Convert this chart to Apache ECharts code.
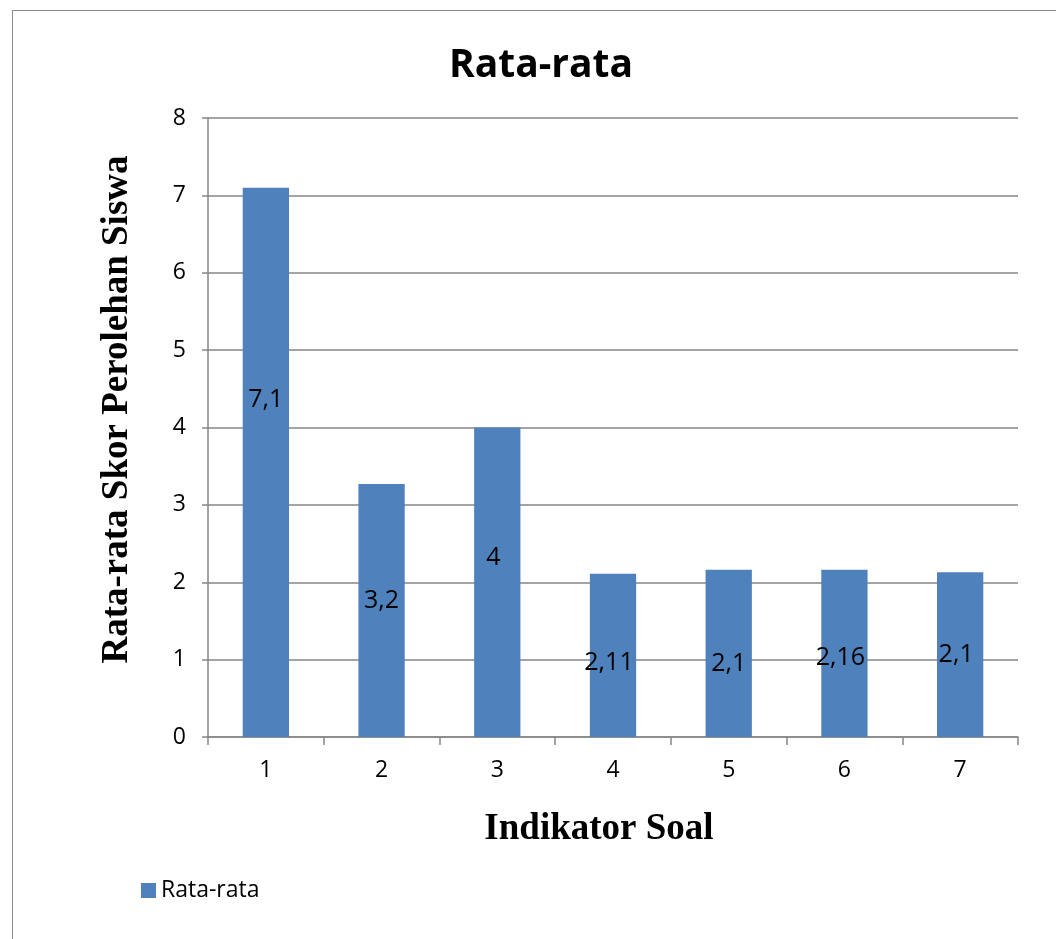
<!DOCTYPE html>
<html><head><meta charset="utf-8">
<script src="https://cdn.jsdelivr.net/npm/echarts@6/dist/echarts.min.js"></script>
<style>html,body{margin:0;padding:0;background:#fff}#frame{position:absolute;left:12px;top:10px;width:1100px;height:1000px;border:1.5px solid #8a8a8a;box-sizing:border-box}#c{position:absolute;left:0;top:0;width:1056px;height:939px}</style>
</head><body><div id="frame"></div><div id="c"></div>
<script>
const categories = ['1','2','3','4','5','6','7'];
const values = [7.1, 3.27, 4.0, 2.11, 2.16, 2.16, 2.13];
const valueLabels = ['7,1','3,2','4','2,11','2,1','2,16','2,1'];
const seriesName = 'Rata-rata';
const titleText = 'Rata-rata';
const yTitle = 'Rata-rata Skor Perolehan Siswa';
const xTitle = 'Indikator Soal';

const labelOffsets = [[0,-62],[0,-10],[-4,-24],[-4,8],[0,10],[-4,4],[-4,0]];
const chart = echarts.init(document.getElementById('c'));
const sans = '"Open Sans", Lato, sans-serif';
const serif = '"Liberation Serif", "DejaVu Serif", serif';
chart.setOption({
  animation:false,
  backgroundColor:'transparent',
  title:{text:titleText,left:444,top:41,textStyle:{fontFamily:sans,fontWeight:'bold',fontSize:39,color:'#000'}},
  legend:{left:136,top:874,itemWidth:15,itemHeight:15,itemGap:7,icon:'rect',textStyle:{fontFamily:sans,fontSize:23,color:'#000'},data:[seriesName]},
  grid:{left:208,right:38,top:118,bottom:202},
  xAxis:{type:'category',data:categories,
    name:xTitle,nameLocation:'middle',nameGap:74,nameTextStyle:{fontFamily:serif,fontWeight:'bold',fontSize:37,color:'#000',padding:[0,28,0,0]},
    axisLine:{lineStyle:{color:'#868686',width:1.5}},
    axisTick:{show:true,length:8,lineStyle:{color:'#868686',width:1.5}},
    axisLabel:{fontFamily:sans,fontSize:23,color:'#000',margin:22}},
  yAxis:{type:'value',min:0,max:8,interval:1,
    name:yTitle,nameLocation:'middle',nameGap:72,nameTextStyle:{fontFamily:serif,fontWeight:'bold',fontSize:37,color:'#000',padding:[0,0,0,36]},
    axisLine:{show:true,lineStyle:{color:'#868686',width:1.5}},
    axisTick:{show:true,length:6,lineStyle:{color:'#868686',width:1.5}},
    axisLabel:{fontFamily:sans,fontSize:23,color:'#000',margin:22},
    splitLine:{lineStyle:{color:'#868686',width:1.5}}},
  series:[{name:seriesName,type:'bar',barWidth:'40%',
    itemStyle:{color:'#4F81BD'},
    data:values.map((v,i)=>({value:v,label:{show:true,position:'inside',offset:labelOffsets[i],formatter:valueLabels[i]}})),
    label:{fontFamily:sans,fontSize:25,color:'#000'}}]
});
</script></body></html>
